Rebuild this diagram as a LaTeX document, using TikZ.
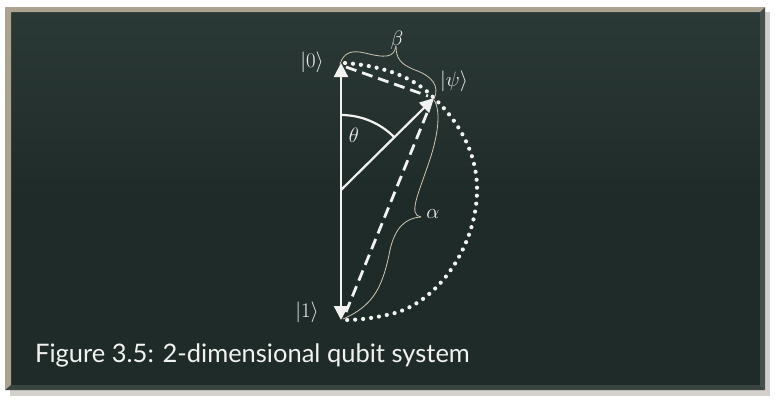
\documentclass[tikz,border=0pt]{standalone}
\usepackage{fontspec}
\newfontfamily\capfont{Lato}
\usetikzlibrary{arrows.meta}
\definecolor{board}{HTML}{1F2B28}
\definecolor{boardlight}{HTML}{2B3936}
\definecolor{frametop}{HTML}{ABA291}
\definecolor{frameside}{HTML}{454F4B}
\definecolor{framebot}{HTML}{3A4440}
\definecolor{shadowc}{HTML}{D3D0CB}
\definecolor{chalk}{HTML}{F2F2F0}
\definecolor{bracec}{HTML}{CFC6B4}
\tikzset{
  vec/.style={draw=chalk, line width=2.2pt, -{Triangle[length=14pt,width=14pt]}},
  dashln/.style={draw=chalk, line width=2.8pt, dash pattern=on 11pt off 6pt},
  dotln/.style={draw=chalk, line width=4.2pt, line cap=round, dash pattern=on 0pt off 8pt},
  bracel/.style={draw=bracec, line width=0.8pt},
  lbl/.style={text=chalk, font=\fontsize{22}{24}\selectfont, inner sep=0pt},
}
\begin{document}
\begin{tikzpicture}[x=1pt,y=-1pt]
\useasboundingbox (0,0) rectangle (783,400);
\fill[white] (0,0) rectangle (783,400);
% shadow
\fill[shadowc] (10,12) rectangle (770,396);
% board
\shade[top color=boardlight, bottom color=board, middle color=board] (11,12) rectangle (760,385);
% frame
\fill[frametop] (5,7) -- (765,7) -- (760,12) -- (11,12) -- cycle;
\fill[frametop] (5,7) -- (11,12) -- (11,385) -- (5,390) -- cycle;
\fill[frameside] (765,7) -- (765,390) -- (760,385) -- (760,12) -- cycle;
\fill[framebot] (5,390) -- (765,390) -- (760,385) -- (11,385) -- cycle;

% points
\coordinate (C) at (341,190);
\coordinate (Z) at (341,63);
\coordinate (O) at (341,320);
\coordinate (P) at (434,98);

% dotted circle arc
\draw[dotln] (345,63) .. controls (385,66) and (415,78) .. (P)
  .. controls (455,118) and (478,150) .. (477,192)
  .. controls (476,245) and (440,300) .. (395,313)
  .. controls (375,318) and (360,320) .. (344,320);

% dashed lines
\draw[dashln] (346,67) -- (428,96);
\draw[dashln] (427,113) -- (346,312);

% theta arc
\draw[draw=chalk, line width=2.2pt] (341,115) arc[start angle=-90, end angle=-45, radius=75];

% vectors
\draw[vec] (C) -- (Z);
\draw[vec] (C) -- (O);
\draw[vec] (C) -- (P);

% braces
\draw[bracel] (340,64) .. controls (344,52) and (352,50) .. (365,53)
  .. controls (385,58) and (394,58) .. (396,46);
\draw[bracel] (396,46) .. controls (396,58) and (400,64) .. (415,70)
  .. controls (432,76) and (440,86) .. (434,99);
\draw[bracel] (434,100) .. controls (442,112) and (437,140) .. (428,165)
  .. controls (418,195) and (408,215) .. (421,217);
\draw[bracel] (421,217) .. controls (405,218) and (395,228) .. (390,250)
  .. controls (383,285) and (375,305) .. (343,319);

% labels
\node[lbl] (l0) at (312,62) {$|0\rangle$};
\node[lbl] (l1) at (307,312) {$|1\rangle$};
\node[lbl] (lpsi) at (454,81) {$|\psi\rangle$};
\node[lbl] (lth) at (354,135) {$\theta$};
\node[lbl] (lal) at (433,214) {$\alpha$};
\node[lbl] (lbe) at (397,40) {$\beta$};

% caption
\node[text=chalk, anchor=base west, inner sep=0pt, font=\capfont\fontsize{25.5}{28}\selectfont] (cap) at (35,362) {Figure 3.5: 2-dimensional qubit system};
\end{tikzpicture}
\end{document}
